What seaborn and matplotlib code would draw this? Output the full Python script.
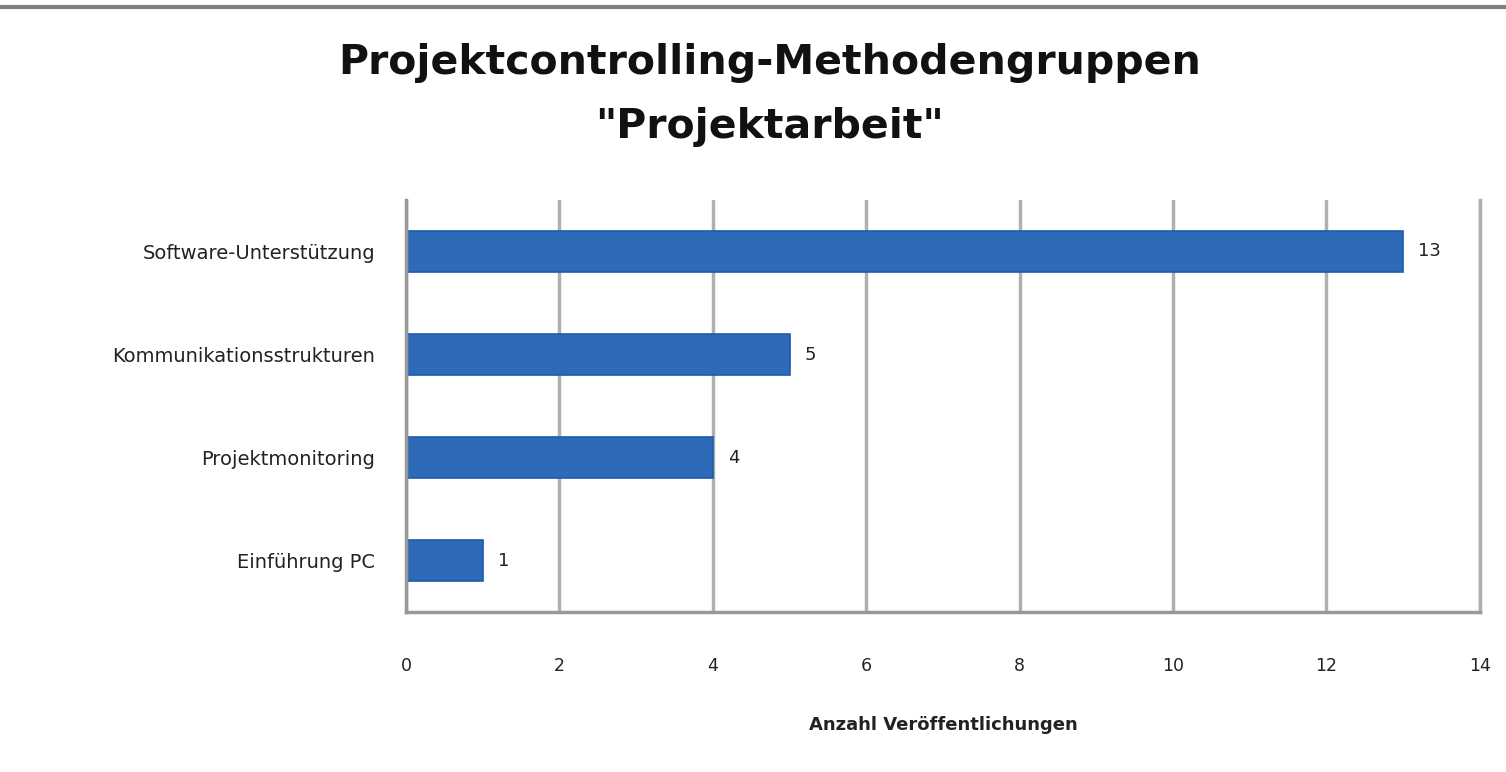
import matplotlib
matplotlib.use("Agg")
import matplotlib.pyplot as plt
import seaborn as sns
import pandas as pd
from matplotlib.lines import Line2D

# Daten aus dem Diagramm
kategorien = ['Software-Unterstützung', 'Kommunikationsstrukturen', 'Projektmonitoring', 'Einführung PC']
anzahl = [13, 5, 4, 1]
x_ticks = [0, 2, 4, 6, 8, 10, 12, 14]

df = pd.DataFrame({'Methode': kategorien, 'Anzahl': anzahl})

sns.set_style('white')
plt.rcParams['font.family'] = ['DejaVu Sans']

fig = plt.figure(figsize=(15.06, 7.72), dpi=100)
ax = fig.add_axes([0.2696, 0.207, 0.713, 0.534])

sns.barplot(data=df, x='Anzahl', y='Methode', orient='h', color='#2D6AB8',
            saturation=1, edgecolor='#1F5BAE', linewidth=1.2, width=0.4, ax=ax)

# Werte neben den Balken
for i, v in enumerate(anzahl):
    ax.text(v + 0.2, i, str(v), va='center', ha='left', fontsize=13,
            color='#222222')

ax.set_xlim(0, 14)
ax.set_ylim(3.5, -0.5)
ax.set_xticks(x_ticks)
ax.set_xticklabels([str(t) for t in x_ticks], fontsize=12.5, color='#222222')
ax.tick_params(axis='x', length=0, pad=32)
ax.tick_params(axis='y', length=0, pad=22, labelsize=14, labelcolor='#222222')
ax.xaxis.grid(True, color='#b0b0b0', linewidth=2.5)
ax.set_axisbelow(True)

ax.spines['top'].set_visible(False)
ax.spines['right'].set_color('#b0b0b0')
ax.spines['right'].set_linewidth(2.5)
for s in ['left', 'bottom']:
    ax.spines[s].set_color('#999999')
    ax.spines[s].set_linewidth(2.5)

ax.set_ylabel('')
ax.set_xlabel('Anzahl Veröffentlichungen', fontsize=13, fontweight='bold',
              labelpad=30, color='#222222')

fig.text(0.511, 0.877, 'Projektcontrolling-Methodengruppen\n"Projektarbeit"',
         ha='center', va='center', fontsize=29.5, fontweight='bold',
         linespacing=1.75, color='#111111')

# graue Linie am oberen Rand
fig.add_artist(Line2D([0, 1], [0.991, 0.991], color='#808080', linewidth=3,
                      transform=fig.transFigure))

fig.savefig('out.png', dpi=100)
